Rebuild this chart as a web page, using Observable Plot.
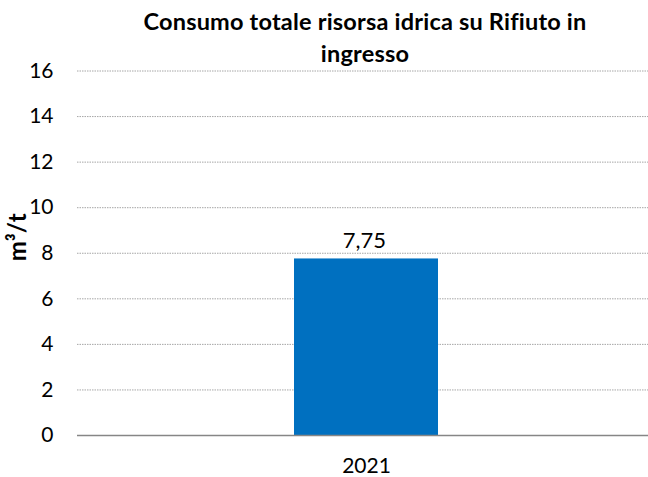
<!DOCTYPE html>
<html>
<head>
<meta charset="utf-8">
<script src="https://cdn.jsdelivr.net/npm/d3@7"></script>
<script src="https://cdn.jsdelivr.net/npm/@observablehq/plot@0.6"></script>
<style>
  body { margin: 0; background: #fff; font-family: Lato, "Open Sans", sans-serif; }
  #chart { width: 648px; height: 477px; position: relative; overflow: hidden; }
  #title { height: 60px; padding-top: 5px; box-sizing: border-box; padding-left: 82px; text-align: center;
           font-weight: bold; font-size: 23.5px; letter-spacing: 0.2px; line-height: 32px; color: #000;
           white-space: nowrap; font-variant-ligatures: none; }
  #title div { height: 32px; }
  svg { display: block; overflow: visible; }
</style>
</head>
<body>
<div id="chart">
  <div id="title"><div>Consumo totale risorsa idrica su Rifiuto in</div><div>ingresso</div></div>
</div>
<script>
const years = ["2021"];
const values = [7.75];
const yTicks = [0, 2, 4, 6, 8, 10, 12, 14, 16];
const yLabel = "m³/t";

const data = years.map((year, i) => ({year, value: values[i]}));
const itFmt = v => v.toLocaleString("it-IT");

const plot = Plot.plot({
  width: 648,
  height: 417,
  marginTop: 10.5,
  marginBottom: 42,
  marginLeft: 77,
  marginRight: 0,
  style: {fontFamily: "Lato, 'Open Sans', sans-serif", fontSize: "21px", color: "#000", background: "transparent", overflow: "visible"},
  x: {domain: years, range: [77, 656], padding: 0.6, label: null},
  y: {domain: [0, 16], ticks: yTicks, label: null},
  marks: [
    Plot.gridY(yTicks.filter(t => t !== 0), {stroke: "#a6a6a6", strokeOpacity: 1, strokeDasharray: "1.5,1"}),
    Plot.barY(data, {x: "year", y: "value", fill: "#0070C0"}),
    Plot.ruleY([0], {stroke: "#868686", strokeWidth: 1.5}),
    Plot.axisY(yTicks, {tickSize: 0, tickPadding: 24, fontSize: 21, label: null}),
    Plot.axisX({tickSize: 0, tickPadding: 23, fontSize: 21, label: null}),
    Plot.text(data, {x: "year", y: "value", text: d => itFmt(d.value), dy: -18, dx: -2, fontSize: 22}),
    Plot.text([yLabel], {frameAnchor: "left", text: d => d, rotate: -90, dx: -59, dy: 8, fontWeight: "bold", fontSize: 24})
  ]
});
document.getElementById("chart").appendChild(plot);
</script>
</body>
</html>
